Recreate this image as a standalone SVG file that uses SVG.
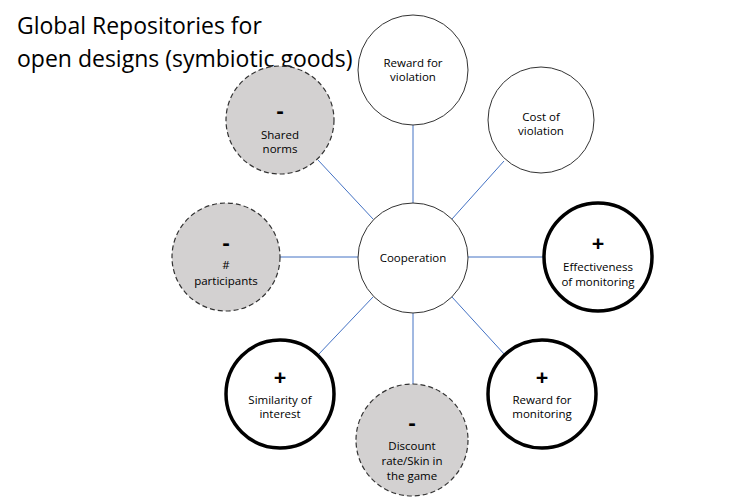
<svg xmlns="http://www.w3.org/2000/svg" width="743" height="502" viewBox="0 0 743 502">
<style>
text{font-family:"Open Sans","Liberation Sans",sans-serif;fill:#000}
.t{font-size:11.5px;text-anchor:middle}
.s{font-size:22px;font-weight:bold;text-anchor:middle}
.title{font-size:23px}
.plain{fill:#fff;stroke:#333;stroke-width:1}
.bold{fill:#fff;stroke:#000;stroke-width:3.5}
.dash{fill:#d3d1d1;stroke:#333;stroke-width:1.2;stroke-dasharray:5 3}
.c{stroke:#4472c4;stroke-width:1;fill:none}
</style>
<rect width="743" height="502" fill="#fff"/>
<g id="title">
<text class="title" x="17" y="34">Global Repositories for</text>
<text class="title" x="17" y="67">open designs (symbiotic goods)</text>
</g>
<g id="connectors">
<line class="c" x1="413" y1="125" x2="413" y2="203"/>
<line class="c" x1="280" y1="257" x2="358" y2="257"/>
<line class="c" x1="468" y1="257" x2="543" y2="257"/>
<line class="c" x1="413" y1="313" x2="413" y2="384"/>
<line class="c" x1="318" y1="160" x2="373" y2="219"/>
<line class="c" x1="504" y1="161" x2="452" y2="219"/>
<line class="c" x1="373" y1="297" x2="318" y2="355"/>
<line class="c" x1="452" y1="297" x2="505" y2="355"/>
</g>
<g id="cooperation">
<circle class="plain" cx="413" cy="258" r="55"/>
<text class="t" x="413" y="262">Cooperation</text>
</g>
<g id="reward-violation">
<circle class="plain" cx="413" cy="70" r="55"/>
<text class="t" x="413" y="67">Reward for</text>
<text class="t" x="413" y="81">violation</text>
</g>
<g id="cost-violation">
<circle class="plain" cx="541" cy="120" r="53"/>
<text class="t" x="541" y="121">Cost of</text>
<text class="t" x="541" y="135">violation</text>
</g>
<g id="shared-norms">
<circle class="dash" cx="280" cy="120" r="54"/>
<text class="s" x="280" y="118">-</text>
<text class="t" x="280" y="139">Shared</text>
<text class="t" x="280" y="153">norms</text>
</g>
<g id="participants">
<circle class="dash" cx="226" cy="257" r="54"/>
<text class="s" x="226" y="250">-</text>
<text class="t" x="226" y="269">#</text>
<text class="t" x="226" y="285">participants</text>
</g>
<g id="effectiveness">
<circle class="bold" cx="598" cy="257" r="54"/>
<text class="s" x="598" y="251">+</text>
<text class="t" x="598" y="271">Effectiveness</text>
<text class="t" x="598" y="286">of monitoring</text>
</g>
<g id="similarity">
<circle class="bold" cx="280" cy="394" r="54"/>
<text class="s" x="280" y="385">+</text>
<text class="t" x="280" y="404">Similarity of</text>
<text class="t" x="280" y="418">interest</text>
</g>
<g id="discount">
<circle class="dash" cx="412" cy="440" r="56"/>
<text class="s" x="412" y="430">-</text>
<text class="t" x="412" y="450">Discount</text>
<text class="t" x="412" y="465">rate/Skin in</text>
<text class="t" x="412" y="480">the game</text>
</g>
<g id="reward-monitoring">
<circle class="bold" cx="542" cy="394" r="54"/>
<text class="s" x="542" y="385">+</text>
<text class="t" x="542" y="404">Reward for</text>
<text class="t" x="542" y="418">monitoring</text>
</g>
</svg>
